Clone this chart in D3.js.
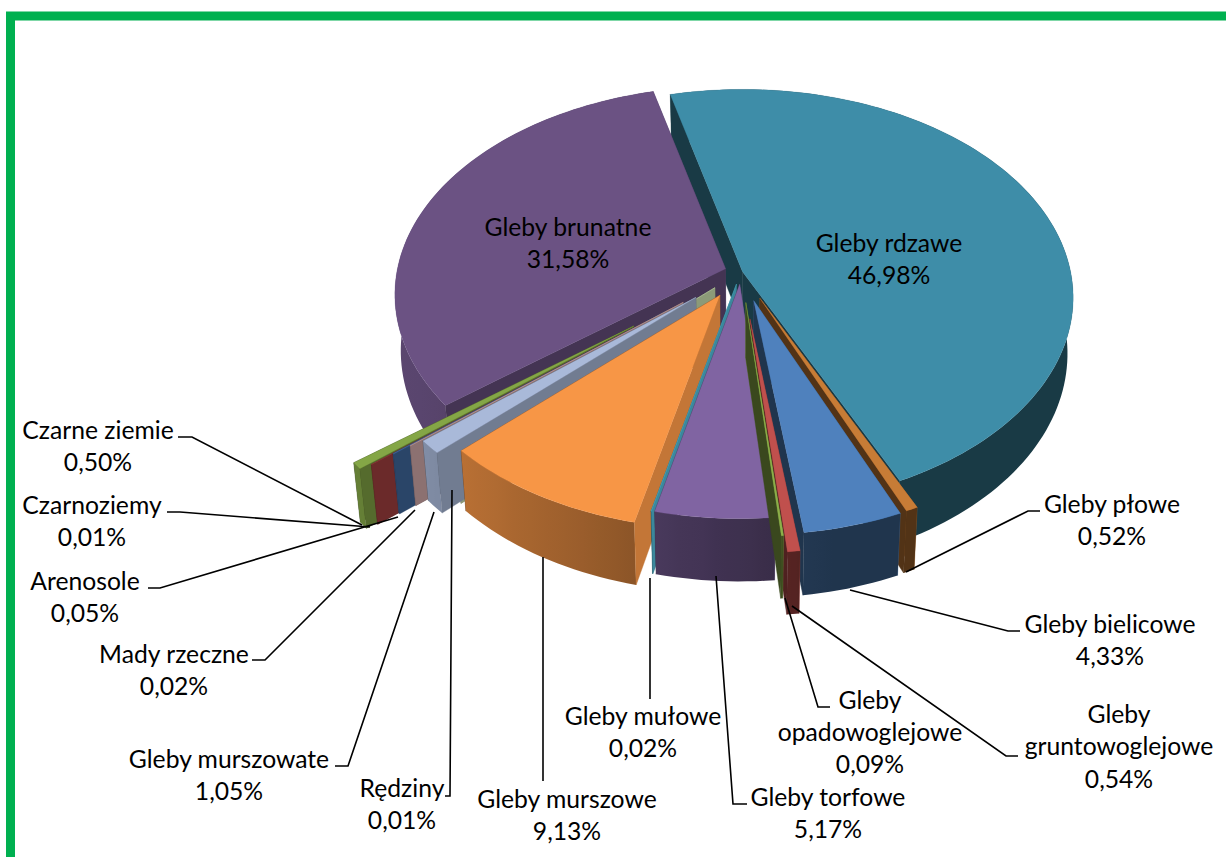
<!DOCTYPE html>
<html><head><meta charset="utf-8">
<script src="https://cdn.jsdelivr.net/npm/d3@7"></script>
<style>html,body{margin:0;padding:0;background:#fff;overflow:hidden}svg{display:block}text{font-family:Lato,"Open Sans",sans-serif;font-size:24.7px;fill:#000}</style>
</head><body><svg id="c" width="1226" height="857"></svg>
<script>
// DATA
const categories=["Gleby rdzawe","Gleby płowe","Gleby bielicowe","Gleby gruntowoglejowe","Gleby opadowoglejowe","Gleby torfowe","Gleby mułowe","Gleby murszowe","Rędziny","Gleby murszowate","Mady rzeczne","Arenosole","Czarnoziemy","Czarne ziemie","Gleby brunatne"];
const values=[46.98,0.52,4.33,0.54,0.09,5.17,0.02,9.13,0.01,1.05,0.02,0.05,0.01,0.50,31.58];
const valueLabels=["46,98%","0,52%","4,33%","0,54%","0,09%","5,17%","0,02%","9,13%","0,01%","1,05%","0,02%","0,05%","0,01%","0,50%","31,58%"];
const explosion=[0.005,0.14,0.145,0.23,0.15,0.06,0.06,0.13,0.11,0.185,0.23,0.295,0.38,0.42,0.05];
const colors=["#3E8DA8","#C77C36","#4F81BD","#C0504D","#8DB04A","#8064A2","#4BACC6","#F79646","#D1E6B3","#A9B9D9","#D8AEAE","#416BA0","#A64141","#84A646","#6B5283"];
// Painter order: back to front
const drawOrder=[0,14,13,12,11,10,8,9,7,6,5,1,2,3,4];
// Label layout: line centres and leader lines, in page pixels
const labelLayout={
0:{x:889,y:[242,274]},14:{x:568,y:[226,258]},
1:{x:1112,y:[503,535],lead:[[1040,511],[1028,511],[906,572]]},
2:{x:1110,y:[623,655],lead:[[1020,631],[1008,631],[850,590]]},
3:{x:1119,y:[713,745,778],lines:["Gleby","gruntowoglejowe"],lead:[[1018,756],[1006,756],[792,606]]},
4:{x:870,y:[699,731,763],lines:["Gleby","opadowoglejowe"],lead:[[830,707],[818,707],[785,598]]},
5:{x:828,y:[796,828],lead:[[747,804],[733,804],[716,576]]},
6:{x:643,y:[715,747],lead:[[650,699],[650,578]]},
7:{x:567,y:[798,830],lead:[[543,781],[543,557]]},
8:{x:402,y:[787,819],lead:[[445,796],[450,796],[452,490]]},
9:{x:229,y:[758,790],lead:[[335,766],[348,766],[434,512]]},
10:{x:174,y:[653,685],lead:[[252,660],[265,660],[415,510]]},
11:{x:85,y:[580,612],lead:[[148,588],[160,588],[398,517]]},
12:{x:92,y:[504,536],lead:[[167,512],[180,512],[370,527]]},
13:{x:98,y:[429,461],lead:[[178,437],[192,437],[362,525]]}
};
// GEOMETRY of the perspective pie
const C=[741,272],R=328,S=205,K=0.125,H=55,SHRINK=0.983;
const rad=d=>d*Math.PI/180;
const pie=d3.pie().sort(null).value(d=>d).startAngle(rad(-14.3)).endAngle(rad(345.7));
const arcs=pie(values);
const svg=d3.select("#c");
const defs=svg.append("defs");
svg.append("path").attr("d","M10.5,857V16H1226").attr("fill","none").attr("stroke","#00B050").attr("stroke-width",9);
function ground(t){const u=Math.sin(t),v=-Math.cos(t),s=1/(1-K*v);return{u,v,s,x:R*u*s,y:S*v*s};}
const line=d3.line();
const shade=(c,f)=>{const q=d3.rgb(c);return d3.rgb(q.r*f,q.g*f,q.b*f).formatHex();};
const rimShade=d3.scaleLinear().domain([-1,0.2]).range([0.85,0.41]).clamp(true);
const faceShade=d3.scaleLinear().domain([-0.4,0.6,1]).range([0.41,0.63,0.8]).clamp(true);
const chart=svg.append("g");
drawOrder.forEach(i=>{
 const a=arcs[i],col=colors[i],e=explosion[i],m=(a.startAngle+a.endAngle)/2;
 const ox=C[0]+e*R*Math.sin(m),oy=C[1]-e*S*Math.cos(m);
 const topPt=t=>{const g=ground(t);return[ox+g.x,oy+g.y,g.s,g.u,g.v];};
 const low=(p,s)=>[C[0]+(p[0]-C[0])*SHRINK,p[1]+H*s];
 const apex=[ox,oy],apexLow=low(apex,1);
 const n=Math.max(1,Math.ceil((a.endAngle-a.startAngle)/rad(1.5)));
 const ts=d3.range(n+1).map(k=>a.startAngle+(a.endAngle-a.startAngle)*k/n);
 const pts=ts.map(topPt);
 const g=chart.append("g").attr("class","slice").datum(categories[i]);
 const midP=topPt(m);
 const faces=[[a.startAngle,pts[0],1],[a.endAngle,pts[n],-1]].map(([t,p,dirn])=>{
  const ex=p[0]-apex[0],ey=p[1]-apex[1];
  const inner=ex*(midP[1]-apex[1])-ey*(midP[0]-apex[0]);
  return{t,p,dirn,front:inner*ex<0};
 });
 const drawFace=({t,p,dirn})=>{
  const fc=shade(col,faceShade(dirn*-Math.cos(t)));
  g.append("path").attr("d",line([apex,[p[0],p[1]],low(p,p[2]),apexLow])+"Z").attr("fill",fc).attr("stroke",fc).attr("stroke-width",0.4);
 };
 faces.filter(f=>!f.front).forEach(drawFace);
 // outer wall: one polygon, shaded along x by a gradient
 const rimPoly=pts.map(p=>[p[0],p[1]]).concat(pts.slice().reverse().map(p=>low(p,p[2])));
 const xs=pts.map(p=>p[0]),x0=d3.min(xs),x1=d3.max(xs);
 let fill;
 if(x1-x0<12){fill=shade(col,rimShade(pts[0][3]));}
 else{
  const id="rim"+i;
  const gr=defs.append("linearGradient").attr("id",id).attr("gradientUnits","userSpaceOnUse").attr("x1",x0).attr("x2",x1).attr("y1",0).attr("y2",0);
  d3.range(11).forEach(k=>{
   const x=x0+(x1-x0)*k/10;
   const nearest=d3.least(pts,p=>Math.abs(p[0]-x));
   gr.append("stop").attr("offset",k/10).attr("stop-color",shade(col,rimShade(nearest[3])));
  });
  fill=`url(#${id})`;
 }
 g.append("path").attr("d",line(rimPoly)+"Z").attr("fill",fill);
 faces.filter(f=>f.front).forEach(drawFace);
 g.append("path").attr("d",line([apex].concat(pts.map(p=>[p[0],p[1]])))+"Z").attr("fill",col).attr("stroke",col).attr("stroke-width",0.3);
});
// leaders & labels
const leadG=svg.append("g"),textG=svg.append("g");
categories.forEach((name,i)=>{
 const L=labelLayout[i];
 if(L.lead) leadG.append("path").attr("d",line(L.lead)).attr("fill","none").attr("stroke","#000").attr("stroke-width",1.6);
 const rows=(L.lines||[name]).concat(valueLabels[i]);
 rows.forEach((r,j)=>textG.append("text").attr("x",L.x).attr("y",L.y[j]).attr("text-anchor","middle").attr("dominant-baseline","central").text(r));
});
</script></body></html>
